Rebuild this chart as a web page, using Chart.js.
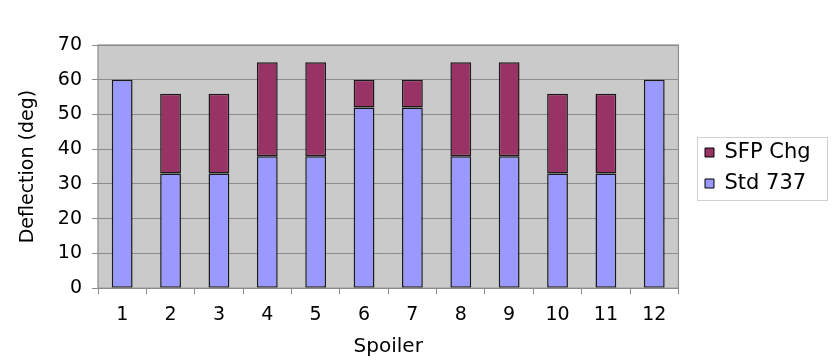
<!DOCTYPE html>
<html><head><meta charset="utf-8">
<script src="https://cdn.jsdelivr.net/npm/chart.js@4"></script>
<style>html,body{margin:0;padding:0;background:#fff}#wrap{width:832px;height:362px}</style>
</head><body><div id="wrap"><canvas id="c"></canvas></div>
<script>
const categories = ['1','2','3','4','5','6','7','8','9','10','11','12'];
const std737 = [60,33,33,38,38,52,52,38,38,33,33,60];
const sfpChg = [0,23,23,27,27,8,8,27,27,23,23,0];
const yTicks = [0,10,20,30,40,50,60,70];
const WIDE = 'DejaVu Sans';

const bgPlugin = {
  id:'bg',
  afterLayout(chart){
    const l = chart.legend;
    const h = l.bottom - l.top;
    l.top = 168 - h/2; l.bottom = l.top + h;
    const w = l.right - l.left;
    l.left = 695; l.right = l.left + w;
  },
  beforeDraw(chart){
    const {ctx, chartArea:a} = chart;
    ctx.save(); ctx.fillStyle='#CACACA'; ctx.fillRect(a.left,a.top,a.right-a.left,a.bottom-a.top); ctx.restore();
  },
  afterDraw(chart){
    const {ctx, chartArea:a} = chart;
    ctx.save(); ctx.strokeStyle='#8c8c8c'; ctx.lineWidth=1.2;
    ctx.strokeRect(a.left,a.top,a.right-a.left,a.bottom-a.top);
    ctx.strokeStyle='#d0d0d0'; ctx.lineWidth=1;
    ctx.strokeRect(697.5,137.5,130,63);
    ctx.restore();
  }
};

new Chart(document.getElementById('c'), {
  type:'bar',
  data:{labels:categories, datasets:[
    {label:'Std 737', data:std737, backgroundColor:'#9999FF', borderColor:'#1a1a1a', borderWidth:1.5, borderSkipped:false},
    {label:'SFP Chg', data:sfpChg, backgroundColor:'#993366', borderColor:'#1a1a1a', borderWidth:1.5, borderSkipped:false}
  ]},
  options:{
    responsive:true, maintainAspectRatio:false, animation:false,
    categoryPercentage:1, barPercentage:0.43,
    layout:{padding:{top:45,left:0,right:28,bottom:1}},
    plugins:{
      tooltip:{enabled:false},
      legend:{position:'right', reverse:true, align:'center',
        labels:{font:{family:WIDE,size:21}, color:'#000', boxWidth:9, boxHeight:9, padding:10,
          generateLabels(chart){
            const items = Chart.defaults.plugins.legend.labels.generateLabels(chart);
            items.forEach(i=>{i.lineWidth=1; i.strokeStyle='#000';});
            return items;
          }}}
    },
    scales:{
      x:{stacked:true,
        grid:{display:true, drawOnChartArea:false, offset:true, tickLength:6, color:'#8c8c8c'},
        border:{display:false},
        ticks:{font:{family:WIDE,size:19}, color:'#000', padding:9},
        title:{display:true, text:'Spoiler', font:{family:WIDE,size:20}, color:'#000', padding:{top:0,bottom:2}}
      },
      y:{stacked:true, min:0, max:70,
        afterBuildTicks(ax){ ax.ticks = yTicks.map(v=>({value:v})); },
        afterFit(ax){ ax.width = 98; },
        grid:{color:'#8c8c8c', tickLength:6, lineWidth:1},
        border:{display:false},
        ticks:{font:{family:WIDE,size:19}, color:'#000', padding:10},
        title:{display:true, text:'Deflection (deg)', font:{family:WIDE,size:19}, color:'#000', padding:{top:17,bottom:0}}
      }
    }
  },
  plugins:[bgPlugin]
});
</script></body></html>
